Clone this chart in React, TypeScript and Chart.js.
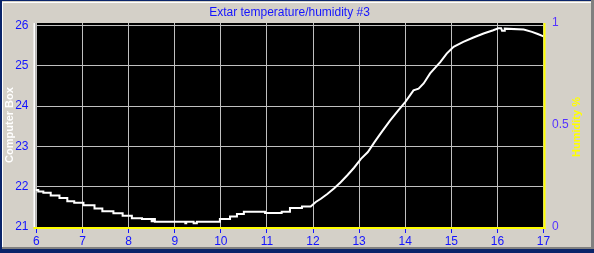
import React, { useEffect, useRef } from "react";
import { Chart, registerables } from "chart.js";

Chart.register(...registerables);

const CHART_TITLE = "Extar temperature/humidity #3";
const LEFT_AXIS_TITLE = "Computer Box";
const RIGHT_AXIS_TITLE = "Humidity %";

const hourTicks = [6, 7, 8, 9, 10, 11, 12, 13, 14, 15, 16, 17];
const tempTicks = [21, 22, 23, 24, 25, 26];
const humidityTicks = [0, 0.5, 1];
const humidityTickLabels = ["0", "0.5", "1"];

// hours of day
const times = [
  5.98, 6.04, 6.04, 6.15, 6.15, 6.31, 6.31, 6.5, 6.5, 6.67, 6.67, 6.82, 6.82, 7.02, 7.02,
  7.26, 7.26, 7.43, 7.43, 7.67, 7.67, 7.87, 7.87, 8.07, 8.07, 8.29, 8.29, 8.5, 8.5, 8.54,
  8.54, 8.57, 8.57, 9.23, 9.23, 9.25, 9.25, 9.41, 9.41, 9.48, 9.48, 9.98, 9.98, 10.2, 10.2,
  10.35, 10.35, 10.5, 10.5, 10.96, 10.96, 11.32, 11.32, 11.5, 11.5, 11.76, 11.76, 11.95,
  12.06, 12.17, 12.31, 12.46, 12.6, 12.75, 12.89, 13.04, 13.19, 13.33, 13.46, 13.67, 13.85,
  14.0, 14.18, 14.29, 14.4, 14.54, 14.76, 14.9, 15.05, 15.26, 15.48, 15.7, 15.91, 16.02,
  16.08, 16.1, 16.15, 16.16, 16.57, 16.75, 16.89, 17.0,
];
// Computer Box temperature
const temps = [
  21.92, 21.92, 21.88, 21.88, 21.85, 21.85, 21.78, 21.78, 21.72, 21.72, 21.64, 21.64, 21.6, 21.6, 21.54,
  21.54, 21.46, 21.46, 21.39, 21.39, 21.34, 21.34, 21.28, 21.28, 21.22, 21.22, 21.2, 21.2, 21.14, 21.14,
  21.2, 21.2, 21.13, 21.13, 21.09, 21.09, 21.13, 21.13, 21.09, 21.09, 21.13, 21.13, 21.2, 21.2, 21.26,
  21.26, 21.32, 21.32, 21.38, 21.38, 21.35, 21.35, 21.38, 21.38, 21.47, 21.47, 21.51, 21.51,
  21.62, 21.7, 21.82, 21.96, 22.11, 22.29, 22.47, 22.69, 22.86, 23.1, 23.31, 23.64, 23.89,
  24.1, 24.39, 24.43, 24.56, 24.81, 25.09, 25.3, 25.47, 25.59, 25.7, 25.8, 25.88, 25.93,
  25.93, 25.87, 25.87, 25.92, 25.9, 25.84, 25.78, 25.73,
];

const FONT = "'Liberation Sans', Arial, sans-serif";

const framePlugin = {
  id: "frame",
  beforeDraw(chart: any) {
    const ctx = chart.ctx;
    const w = chart.width;
    const h = chart.height;
    const a = chart.chartArea;
    ctx.save();
    ctx.fillStyle = "#D4D0C8";
    ctx.fillRect(0, 0, w, h);
    ctx.fillStyle = "#000000";
    ctx.fillRect(a.left, a.top, a.right - a.left, a.bottom - a.top);
    // window frame
    ctx.fillStyle = "#0A246A";
    ctx.fillRect(0, 0, w - 3, 1);
    ctx.fillRect(0, 0, 2, h);
    ctx.fillRect(0, h - 4, w, 4);
    ctx.fillStyle = "#FFFFFF";
    ctx.fillRect(2, 2, w - 5, 1);
    ctx.fillRect(2, 2, 1, h - 8);
    ctx.fillStyle = "#808080";
    ctx.fillRect(w - 3, 0, 3, h - 4);
    ctx.fillRect(2, h - 6, w - 5, 2);
    ctx.restore();
  },
  afterDraw(chart: any) {
    const ctx = chart.ctx;
    const a = chart.chartArea;
    ctx.save();
    ctx.fillStyle = "#FFFFFF";
    ctx.fillRect(a.left - 2, a.top, 2, a.bottom - a.top);
    ctx.fillStyle = "#FFFF00";
    ctx.fillRect(a.right, a.top, 2, a.bottom - a.top + 2);
    ctx.fillRect(a.left - 2, a.bottom, a.right - a.left + 4, 2);
    // right axis title (reads bottom to top)
    ctx.translate(577, 127);
    ctx.rotate(-Math.PI / 2);
    ctx.font = `bold 11px ${FONT}`;
    ctx.fillStyle = "#FFFF00";
    ctx.textAlign = "center";
    ctx.textBaseline = "middle";
    ctx.fillText(RIGHT_AXIS_TITLE, 0, 0);
    ctx.restore();
  },
};

export default function App() {
  const ref = useRef<HTMLCanvasElement | null>(null);

  useEffect(() => {
    if (!ref.current) return;
    const chart = new Chart(ref.current, {
      type: "line",
      data: {
        datasets: [
          {
            data: times.map((t, i) => ({ x: t, y: temps[i] })),
            borderColor: "#FFFFFF",
            borderWidth: 2,
            pointRadius: 0,
            fill: false,
            tension: 0,
            xAxisID: "x",
            yAxisID: "y",
          },
        ],
      },
      options: {
        animation: false,
        responsive: false,
        devicePixelRatio: 1,
        layout: { padding: 0 },
        plugins: {
          legend: { display: false },
          tooltip: { enabled: false },
          title: {
            display: true,
            text: CHART_TITLE,
            color: "#1414FF",
            font: { family: FONT, size: 12, weight: "normal" },
            padding: { top: 5, bottom: 3.6 },
            fullSize: false,
          },
        },
        scales: {
          x: {
            type: "linear",
            min: 5.98,
            max: 17,
            afterBuildTicks: (s: any) => {
              s.ticks = hourTicks.map((v) => ({ value: v }));
            },
            afterFit: (s: any) => {
              s.height = 26;
            },
            grid: {
              color: "#C0C0C0",
              lineWidth: 1,
              drawTicks: true,
              tickLength: 6,
              tickColor: "#1414FF",
              tickWidth: 1,
            },
            border: { display: false },
            ticks: {
              color: "#1414FF",
              font: { family: FONT, size: 12 },
              padding: 1,
              maxRotation: 0,
              autoSkip: false,
              callback: (v: any) => String(v),
            },
          },
          y: {
            type: "linear",
            position: "left",
            min: 21,
            max: 26.06,
            afterBuildTicks: (s: any) => {
              s.ticks = tempTicks.map((v) => ({ value: v }));
            },
            afterFit: (s: any) => {
              s.width = 35.5;
            },
            grid: { color: "#C0C0C0", lineWidth: 1, drawTicks: false },
            border: { display: false },
            ticks: {
              color: "#1414FF",
              font: { family: FONT, size: 12 },
              padding: 7,
              callback: (v: any) => String(v),
            },
            title: {
              display: true,
              text: LEFT_AXIS_TITLE,
              color: "#FFFFFF",
              font: { family: FONT, size: 11, weight: "bold" },
              padding: { top: 3.4, bottom: 0 },
            },
          },
          y1: {
            type: "linear",
            position: "right",
            min: 0,
            max: 1,
            afterBuildTicks: (s: any) => {
              s.ticks = humidityTicks.map((v) => ({ value: v }));
            },
            afterFit: (s: any) => {
              s.width = 50.5;
            },
            grid: { display: false, drawTicks: false },
            border: { display: false },
            ticks: {
              color: "#5533FF",
              font: { family: FONT, size: 12 },
              padding: 8.5,
              callback: (_v: any, i: number) => humidityTickLabels[i],
            },
          },
        },
      },
      plugins: [framePlugin],
    } as any);
    return () => chart.destroy();
  }, []);

  return (
    <div style={{ position: "absolute", left: 0, top: 0, width: 594, height: 253 }}>
      <canvas ref={ref} width={594} height={253} style={{ width: 594, height: 253, display: "block" }} />
    </div>
  );
}
